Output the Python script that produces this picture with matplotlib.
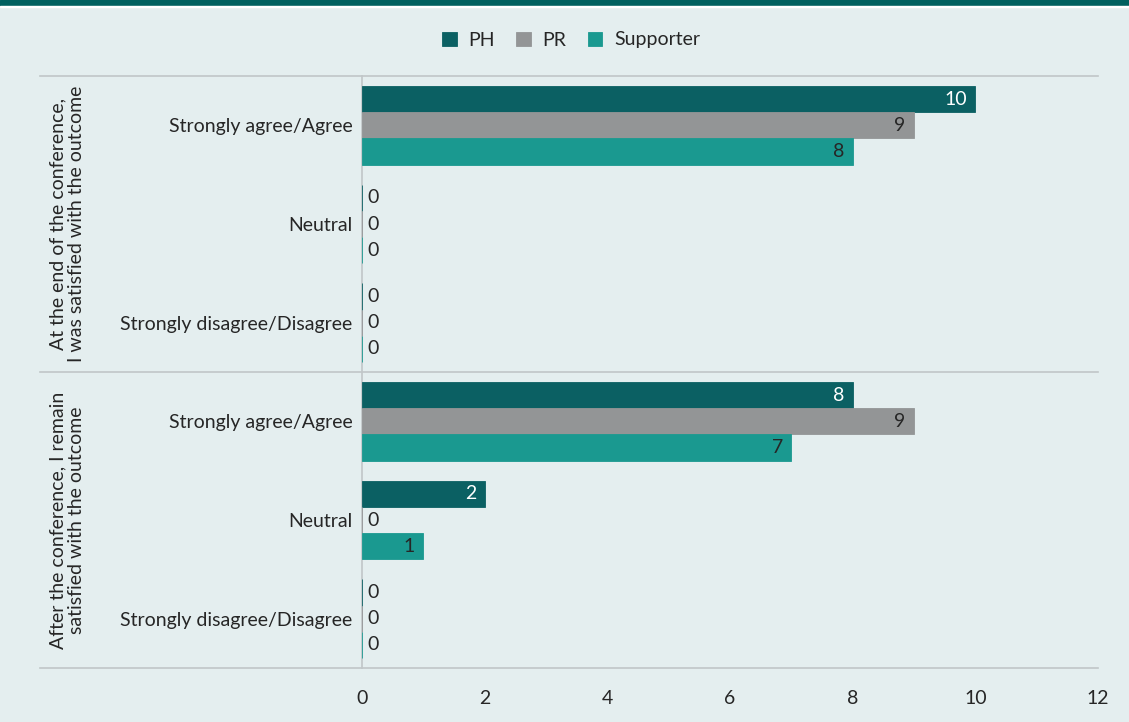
import matplotlib.pyplot as plt
import numpy as np
from matplotlib.patches import Rectangle

plt.rcParams['font.family'] = ['Lato', 'DejaVu Sans']

# survey answers, counts per participant type
categories = ['Strongly agree/Agree', 'Neutral', 'Strongly disagree/Disagree',
              'Strongly agree/Agree', 'Neutral', 'Strongly disagree/Disagree']
groups = ['At the end of the conference,\nI was satisfied with the outcome',
          'After the conference, I remain\nsatisfied with the outcome']
ph = [10, 0, 0, 8, 2, 0]
pr = [9, 0, 0, 9, 0, 0]
supporter = [8, 0, 0, 7, 1, 0]
series = ['PH', 'PR', 'Supporter']
colors = ['#0b6063', '#939596', '#1a9990']
label_colors = ['white', '#262626', '#262626']
xticks = [0, 2, 4, 6, 8, 10, 12]

bg = '#e4eeef'
fs = 14

fig = plt.figure(figsize=(11.29, 7.22), dpi=100, facecolor=bg)
# dark header strip across the top
fig.patches.append(Rectangle((0, 1 - 6/722), 1, 6/722, transform=fig.transFigure,
                             color='#00605f', zorder=0))
fig.patches.append(Rectangle((0, 1 - 7/722), 1, 1/722, transform=fig.transFigure,
                             color='white', zorder=0))

ax = fig.add_axes([362/1129, 54/722, 736/1129, 592/722])
ax.set_facecolor(bg)

y = np.arange(len(categories))
h = 0.265
for i, (vals, c, lc) in enumerate(zip([ph, pr, supporter], colors, label_colors)):
    pos = y + (i - 1) * h
    ax.barh(pos, vals, height=h, color=c, edgecolor=c, linewidth=0.6,
            label=series[i], zorder=3)
    for p, v in zip(pos, vals):
        if v > 0:
            ax.annotate(str(v), (v, p), xytext=(-6, 0), textcoords='offset points',
                        ha='right', va='center', color=lc, fontsize=fs, zorder=4)
        else:
            ax.annotate(str(v), (v, p), xytext=(4, 0), textcoords='offset points',
                        ha='left', va='center', color='#262626', fontsize=fs, zorder=4)

ax.set_ylim(len(categories) - 0.5, -0.5)
ax.set_xlim(0, 12)
ax.set_yticks(y)
ax.set_yticklabels(categories, fontsize=fs, color='#262626')
ax.set_xticks(xticks)
ax.set_xticklabels([str(t) for t in xticks], fontsize=fs, color='#262626')
ax.tick_params(axis='both', length=0)
ax.tick_params(axis='y', pad=7)
ax.tick_params(axis='x', pad=16)

for s in ['top', 'right', 'bottom']:
    ax.spines[s].set_visible(False)
ax.spines['left'].set_color('#c0c6c8')
ax.spines['left'].set_linewidth(1.2)

# separators between question blocks, running out under the group labels
x0 = (40 - 362) / 736
for yy in [-0.5, 2.5, 5.5]:
    ax.plot([x0, 1], [yy, yy], color='#c0c6c8', lw=1.2, clip_on=False,
            transform=ax.get_yaxis_transform(), zorder=2)

for k, g in enumerate(groups):
    ax.text((67 - 362) / 736, 1 + 3 * k, g, transform=ax.get_yaxis_transform(),
            rotation=90, ha='center', va='center', fontsize=fs, color='#262626',
            multialignment='center', linespacing=1.1)

ax.legend(loc='center', bbox_to_anchor=(571 / 1129, 1 - 40 / 722),
          bbox_transform=fig.transFigure, ncol=3, frameon=False, fontsize=fs,
          handlelength=0.75, handleheight=0.75, handletextpad=0.6, columnspacing=1.1,
          labelcolor='#262626')

fig.savefig('out.png', dpi=100, facecolor=bg)
